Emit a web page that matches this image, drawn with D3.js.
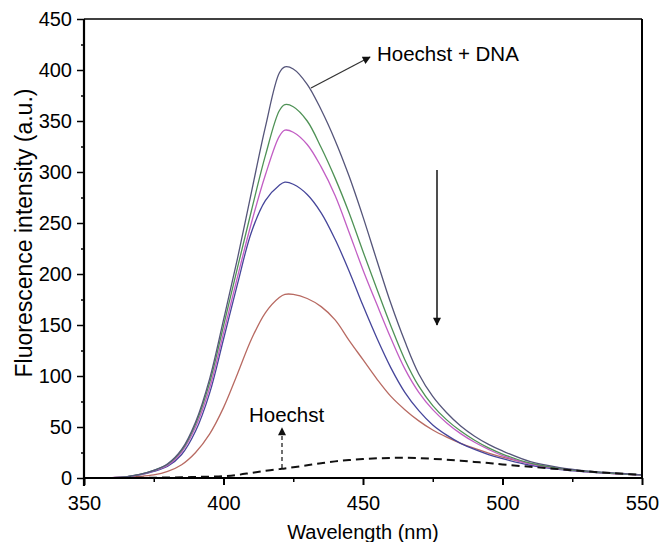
<!DOCTYPE html>
<html>
<head>
<meta charset="utf-8">
<script src="https://cdn.jsdelivr.net/npm/d3@7/dist/d3.min.js"></script>
<style>
  html, body { margin: 0; padding: 0; background: #fff; }
  svg { display: block; font-family: "Liberation Sans", Arial, Helvetica, sans-serif; }
</style>
</head>
<body>
<svg id="chart" width="661" height="542"></svg>
<script>
// Emission wavelengths (nm) shared by all spectra
const wavelengths = [350,360,365,370,375,380,385,390,395,400,405,410,415,420,422,425,430,435,440,445,450,455,460,465,470,475,480,485,490,495,500,510,520,530,540,550];

// Hoechst + DNA, then successive additions (intensity drops)
const hoechstDNA = [0,0.4,1.2,3.5,7.5,14,28,55,97,155,215,280,344,397,403,401,386,361,331,296,256,213,171,134,102,80,64,51,41,33,26.5,16,10.5,7,5,3];
const step1 = [0,0.4,1.2,3.5,7.5,13.5,27,53,93,149,206,262,316,360,366,364,350,324,294,260,222,185,149,116,90,71,57,46,37,29.5,23.5,14.5,9.5,6.5,4.5,3];
const step2 = [0,0.4,1.1,3.2,7,12.5,25.5,50,88,142,197,250,297,335,341,339,327,305,277,241,204,170,137,107,84,67,54,43.5,35,28,22,13.5,9,6.3,4.3,3];
const step3 = [0,0.4,1.1,3,6.5,11.5,23,46,83,136,190,241,272,287,290,288,278,260,234,203,169,137,108,84,66,52,42,34,28,23,19,12.5,8.5,6,4.2,3];
const step4 = [0,0.3,0.8,1.5,3,6.5,13,25,43,69,102,136,162,177,180,180,176,168,155,135,116,97,80,67,56,47,40,34,29,24.5,20.5,14,9.5,6.3,4.3,3];
// Free Hoechst
const hoechstFree = [0,0,0.1,0.2,0.3,0.5,0.7,1,1.3,1.8,3,5,7,8.7,9.3,10.5,12.5,14.5,16.3,17.6,18.6,19.3,19.7,19.8,19.5,18.8,18,17,15.8,14.6,13.3,11,8.7,6.5,4.6,3];

const xTicks = [350,400,450,500,550];
const yTicks = [0,50,100,150,200,250,300,350,400,450];

const svg = d3.select("#chart");
const x = d3.scaleLinear().domain([350, 550]).range([84, 642]);
const y = d3.scaleLinear().domain([0, 450]).range([478, 19]);

const line = d3.line()
  .x((d, i) => x(wavelengths[i]))
  .y(d => y(d))
  .curve(d3.curveCatmullRom.alpha(0.5));

const solidSeries = [
  { values: step4, color: "#b86a62" },
  { values: step3, color: "#45459a" },
  { values: step2, color: "#c25ec4" },
  { values: step1, color: "#4f9256" },
  { values: hoechstDNA, color: "#55557a" }
];

svg.append("g").selectAll("path")
  .data(solidSeries)
  .join("path")
  .attr("d", s => line(s.values))
  .attr("fill", "none")
  .attr("stroke", s => s.color)
  .attr("stroke-width", 1.3);

svg.append("path")
  .attr("d", line(hoechstFree))
  .attr("fill", "none")
  .attr("stroke", "#111")
  .attr("stroke-width", 2)
  .attr("stroke-dasharray", "8,5");

// Frame
svg.append("line").attr("x1", x(350)).attr("x2", x(550)).attr("y1", y(450)).attr("y2", y(450))
  .attr("stroke", "#000").attr("stroke-width", 1.5);
svg.append("line").attr("x1", x(550)).attr("x2", x(550)).attr("y1", y(450)).attr("y2", y(0))
  .attr("stroke", "#000").attr("stroke-width", 2);

// Axes
const xAxis = d3.axisBottom(x).tickValues(xTicks).tickSize(7).tickPadding(11).tickFormat(d3.format("d"));
const gx = svg.append("g").attr("transform", `translate(0,${y(0)})`).call(xAxis);
gx.select(".domain").attr("stroke-width", 2.2).attr("d", `M${x(350) - 1},0H${x(550) + 1}`);
gx.selectAll(".tick line").attr("stroke-width", 2);
gx.selectAll("text").attr("font-size", 20).attr("fill", "#000")
  .attr("font-family", "'Liberation Sans', Arial, sans-serif");

const xMinor = d3.axisBottom(x).tickValues([375,425,475,525]).tickSize(4).tickFormat("");
const gxm = svg.append("g").attr("transform", `translate(0,${y(0)})`).call(xMinor);
gxm.select(".domain").remove();
gxm.selectAll(".tick line").attr("stroke-width", 1.5);

const yAxis = d3.axisLeft(y).tickValues(yTicks).tickSize(7).tickPadding(5).tickFormat(d3.format("d"));
const gy = svg.append("g").attr("transform", `translate(${x(350)},0)`).call(yAxis);
gy.select(".domain").attr("stroke-width", 2.2).attr("d", `M0,${y(450)}V${y(0) + 8}`);
gy.selectAll(".tick line").attr("stroke-width", 1.5);
gy.selectAll("text").attr("font-size", 20).attr("fill", "#000")
  .attr("font-family", "'Liberation Sans', Arial, sans-serif");

const yMinor = d3.axisLeft(y).tickValues([25,75,125,175,225,275,325,375,425]).tickSize(3).tickFormat("");
const gym = svg.append("g").attr("transform", `translate(${x(350)},0)`).call(yMinor);
gym.select(".domain").remove();
gym.selectAll(".tick line").attr("stroke-width", 1.5);

// Axis titles
svg.append("text")
  .attr("x", 363).attr("y", 539)
  .attr("text-anchor", "middle")
  .attr("font-size", 20)
  .text("Wavelength (nm)");

svg.append("text")
  .attr("transform", "translate(32,233) rotate(-90)")
  .attr("text-anchor", "middle")
  .attr("font-size", 23)
  .text("Fluorescence intensity (a.u.)");

// Arrow markers
const defs = svg.append("defs");
defs.append("marker")
  .attr("id", "head")
  .attr("viewBox", "0 0 10 10")
  .attr("refX", 9).attr("refY", 5)
  .attr("markerWidth", 12).attr("markerHeight", 8)
  .attr("markerUnits", "userSpaceOnUse")
  .attr("orient", "auto")
  .append("path").attr("d", "M0,0L10,5L0,10Z").attr("fill", "#111");

// Hoechst + DNA annotation
svg.append("line")
  .attr("x1", 311).attr("y1", 88).attr("x2", 370).attr("y2", 57)
  .attr("stroke", "#333").attr("stroke-width", 1.3)
  .attr("marker-end", "url(#head)");
svg.append("text")
  .attr("x", 377).attr("y", 61)
  .attr("font-size", 20.5)
  .text("Hoechst + DNA");

// Quenching direction
svg.append("line")
  .attr("x1", 437).attr("y1", 170).attr("x2", 437).attr("y2", 325)
  .attr("stroke", "#222").attr("stroke-width", 1.6)
  .attr("marker-end", "url(#head)");

// Free Hoechst annotation
svg.append("line")
  .attr("x1", 282).attr("y1", 468).attr("x2", 282).attr("y2", 428)
  .attr("stroke", "#222").attr("stroke-width", 1.3)
  .attr("stroke-dasharray", "4,3")
  .attr("marker-end", "url(#head)");
svg.append("text")
  .attr("x", 249).attr("y", 422)
  .attr("font-size", 20.5)
  .text("Hoechst");
</script>
</body>
</html>
